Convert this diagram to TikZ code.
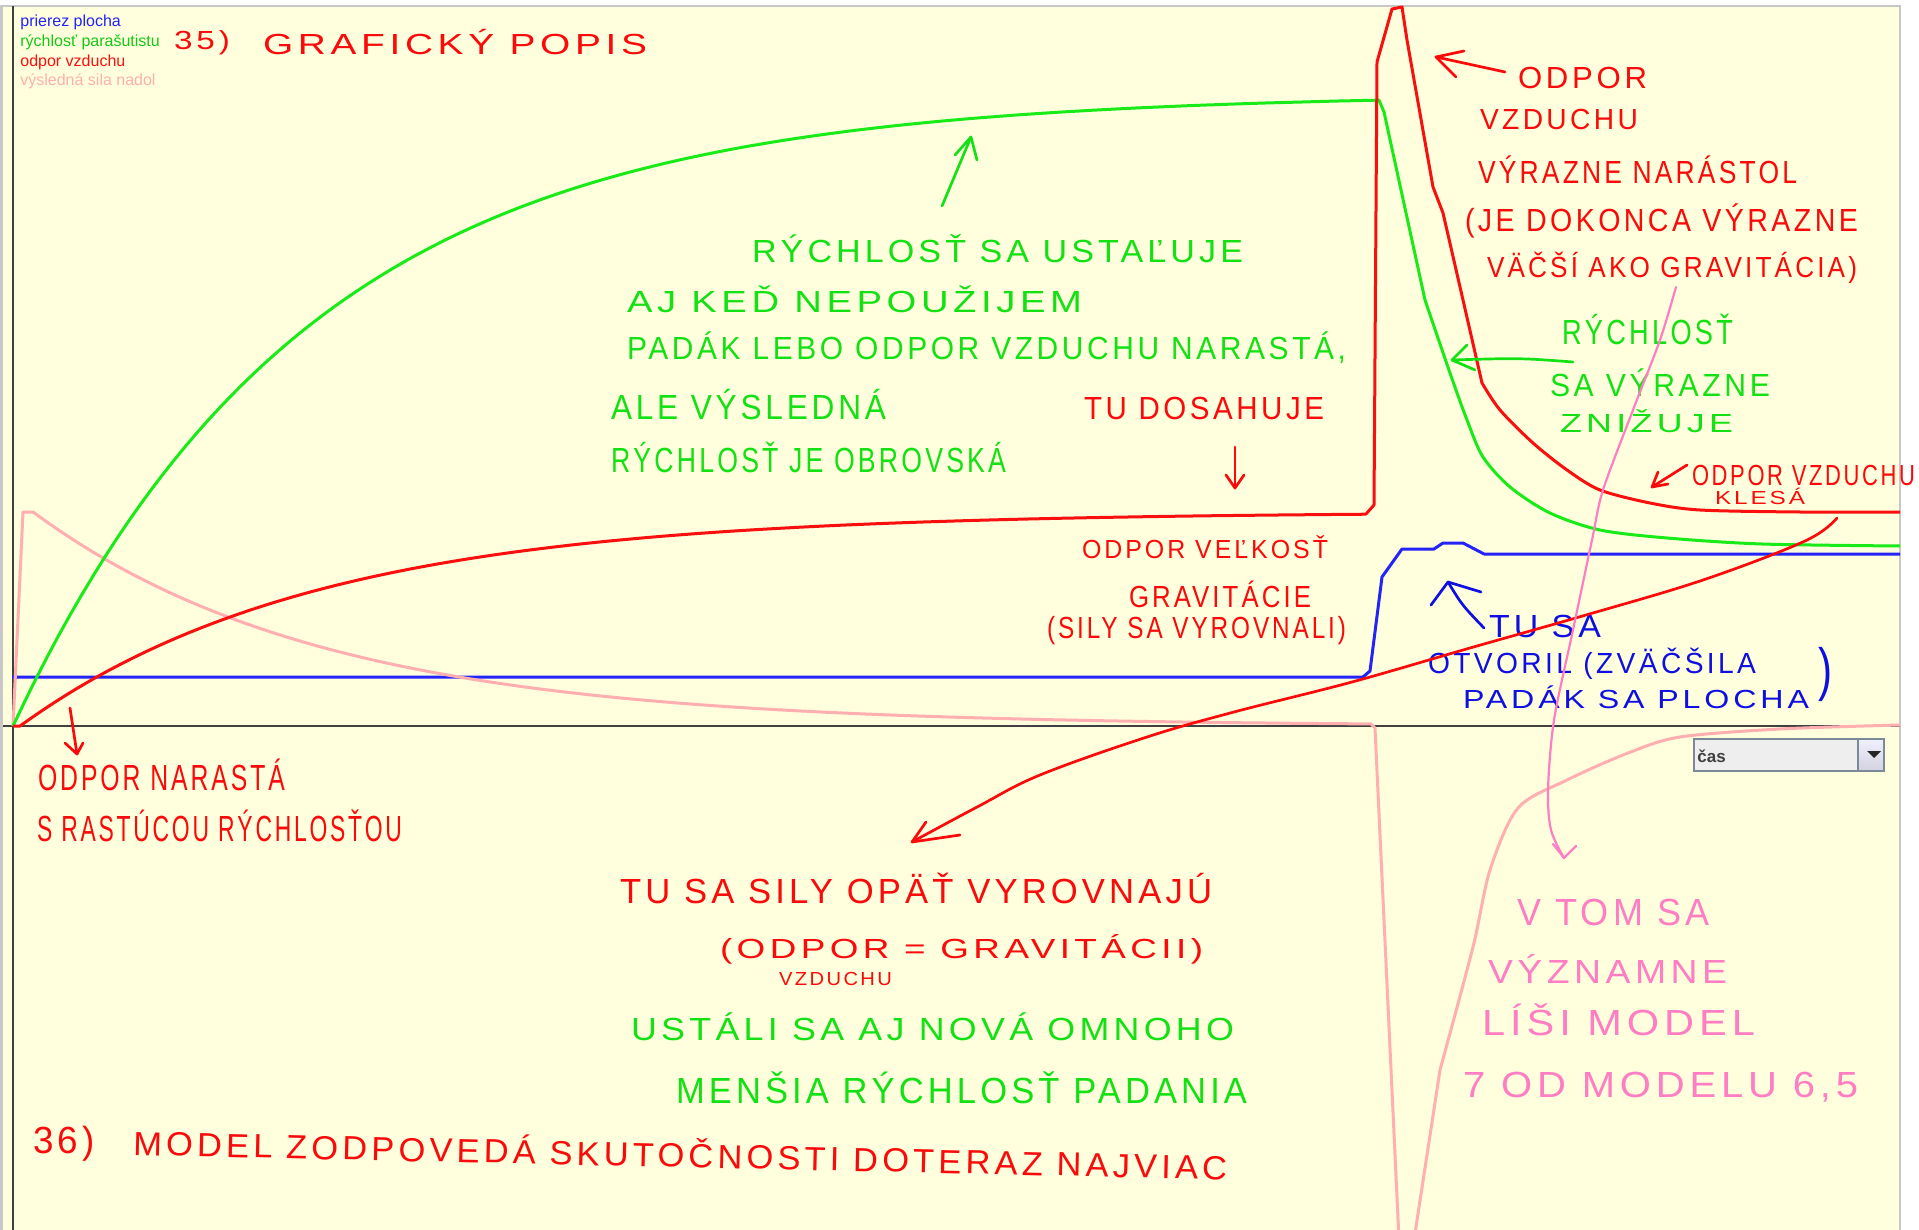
\documentclass[tikz,border=0pt]{standalone}
\usepackage{fontspec}
\usepackage{graphicx}
\setmainfont{Liberation Sans}
\newfontfamily\handfont[LetterSpace=12]{Liberation Sans}

% one screen pixel
\newdimen\px \px=0.5pt
\newsavebox\hwbox
\newsavebox\hwcap
% marker lettering: width in px, cap height in px, text
\newcommand\hw[3]{%
  \sbox\hwbox{\handfont #3}%
  \sbox\hwcap{\handfont H}%
  \ht\hwbox=\ht\hwcap \dp\hwbox=0pt
  \resizebox{#1\px}{#2\px}{\usebox\hwbox}}

\definecolor{plotbg}{RGB}{255,255,221}
\definecolor{framegray}{RGB}{200,200,200}
\definecolor{axisgray}{RGB}{64,64,64}
\definecolor{cblue}{RGB}{35,35,250}
\definecolor{cgreen}{RGB}{25,235,25}
\definecolor{cred}{RGB}{250,15,15}
\definecolor{cpink}{RGB}{255,175,175}
\definecolor{hred}{RGB}{250,10,10}
\definecolor{hgreen}{RGB}{20,225,20}
\definecolor{hblue}{RGB}{15,15,225}
\definecolor{hpink}{RGB}{255,125,195}
\definecolor{boxfill}{RGB}{238,238,238}
\definecolor{boxedge}{RGB}{122,138,153}

\begin{document}
\begin{tikzpicture}[x=0.5pt,y=-0.5pt,
  dataline/.style={line width=1.5pt, line join=round},
  pen/.style={line width=1.35pt, line cap=round, line join=round},
  hand/.style={inner sep=0pt, outer sep=0pt, anchor=base west},
  legend/.style={inner sep=0pt, anchor=west, font=\fontsize{8}{9}\selectfont},
  axis/.style={axisgray, line width=0.8pt}]
\useasboundingbox (0,0) rectangle (1919,1230);

% window and plot area
\fill[white] (0,0) rectangle (1919,1230);
\fill[plotbg] (0,6) rectangle (1900,1230);
\fill[framegray] (0,6) rectangle (3,1230);
\draw[framegray, line width=1pt] (0,6) -- (1900,6) -- (1900,1230);

% axes
\draw[axis] (3,726) -- (1900,726);
\draw[axis] (13,6) -- (13,1230);

% simulated quantities
\begin{scope}
\clip (3,6) rectangle (1900,1230);
% cross-section area
\draw[dataline, cblue] (12,677) -- (1363,677) -- (1370,671) -- (1382,577) -- (1402,549)
  -- (1434,549) -- (1443,543) -- (1463,543) -- (1484,554) -- (1900,554);
% downward resulting force
\draw[dataline, cpink] (13,726) -- (23,512) -- (33,512)
  -- plot[domain=33:1371, samples=90] (\x, {726-214*exp(-(\x-33)/289)})
  -- (1375,728) -- (1399,1240) -- (1414,1240) -- (1440,1070)
  plot[smooth, tension=0.5] coordinates {(1440,1070) (1473,947) (1490,870) (1518,808)
    (1567,780) (1628,753) (1680,737) (1780,729) (1900,725)};
% parachutist speed
\draw[dataline, cgreen] plot[domain=13:1379, samples=120] (\x, {726-632*(1-exp(-(\x-13)/295))})
  -- (1384,112) -- (1425,300)
  plot[smooth, tension=0.5] coordinates {(1425,300) (1450,373) (1467,420) (1483,457)
    (1510,487) (1550,513) (1600,530) (1667,538) (1762,544) (1900,546)};
% air resistance
\draw[dataline, cred] (13,726) -- (20,726)
  -- plot[domain=20:1362, samples=120] (\x, {726-214*(1-exp(-(\x-20)/295))})
  -- (1366,514) -- (1374,505) -- (1377,62) -- (1392,9) -- (1402,7) -- (1407,40)
  -- (1433,187) -- (1443,213) -- (1463,300) -- (1482,383)
  plot[smooth, tension=0.5] coordinates {(1482,383) (1500,410) (1533,443) (1567,470)
    (1600,490) (1650,503) (1700,510) (1800,512) (1900,512)};
\end{scope}

% legend
\node[legend, text=cblue] (lgarea) at (20,22) {prierez plocha};
\node[legend, text=cgreen!85!black] (lgspeed) at (20,42) {rýchlosť parašutistu};
\node[legend, text=cred] (lgdrag) at (20,62) {odpor vzduchu};
\node[legend, text=cpink] (lgforce) at (20,81) {výsledná sila nadol};

% time selector
\fill[boxfill] (1694,739) rectangle (1858,771);
\shade[top color=blue!6, bottom color=blue!18!gray!30] (1858,739) rectangle (1884,771);
\draw[boxedge, line width=0.6pt] (1694,739) rectangle (1884,771);
\draw[boxedge, line width=0.6pt] (1858,739) -- (1858,771);
\fill[black!85] (1867,751) -- (1881,751) -- (1874,758) -- cycle;
\node[anchor=west, inner sep=0pt, font=\bfseries\fontsize{8.5}{9}\selectfont, text=black!75] (cas) at (1697,756) {čas};

% ---- marker notes ----
\node[hand, text=hred] (n35) at (174,50) {\hw{56}{18}{35)}};
\node[hand, text=hred] (title) at (263,55) {\hw{384}{20}{GRAFICKÝ POPIS}};

\node[hand, text=hgreen] (g1) at (752,263) {\hw{491}{22}{RÝCHLOSŤ SA USTAĽUJE}};
\node[hand, text=hgreen] (g2) at (627,313) {\hw{455}{21}{AJ KEĎ NEPOUŽIJEM}};
\node[hand, text=hgreen] (g3) at (627,360) {\hw{719}{22}{PADÁK LEBO ODPOR VZDUCHU NARASTÁ,}};
\node[hand, text=hgreen] (g4) at (611,420) {\hw{275}{24}{ALE VÝSLEDNÁ}};
\node[hand, text=hgreen] (g5) at (611,473) {\hw{395}{24}{RÝCHLOSŤ JE OBROVSKÁ}};

\node[hand, text=hred] (r1) at (1084,420) {\hw{240}{22}{TU DOSAHUJE}};
\node[hand, text=hred] (r2) at (1082,558) {\hw{246}{18}{ODPOR VEĽKOSŤ}};
\node[hand, text=hred] (r3) at (1129,607) {\hw{182}{21}{GRAVITÁCIE}};
\node[hand, text=hred] (r4) at (1047,638) {\hw{299}{21}{(SILY SA VYROVNALI)}};

\node[hand, text=hblue] (b1) at (1489,637) {\hw{112}{22}{TU SA}};
\node[hand, text=hblue] (b2) at (1428,673) {\hw{328}{20}{OTVORIL (ZVÄČŠILA}};
\node[hand, text=hblue] (b3) at (1818,689) {\hw{14}{40}{)}};
\node[hand, text=hblue] (b4) at (1463,708) {\hw{346}{18}{PADÁK SA PLOCHA}};

\node[hand, text=hred] (r5) at (1518,89) {\hw{129}{21}{ODPOR}};
\node[hand, text=hred] (r6) at (1480,130) {\hw{158}{20}{VZDUCHU}};
\node[hand, text=hred] (r7) at (1478,184) {\hw{319}{22}{VÝRAZNE NARÁSTOL}};
\node[hand, text=hred] (r8) at (1465,232) {\hw{393}{22}{(JE DOKONCA VÝRAZNE}};
\node[hand, text=hred] (r9) at (1487,278) {\hw{370}{20}{VÄČŠÍ AKO GRAVITÁCIA)}};

\node[hand, text=hgreen] (g6) at (1562,345) {\hw{171}{24}{RÝCHLOSŤ}};
\node[hand, text=hgreen] (g7) at (1550,397) {\hw{220}{22}{SA VÝRAZNE}};
\node[hand, text=hgreen] (g8) at (1560,433) {\hw{173}{18}{ZNIŽUJE}};

\node[hand, text=hred] (r10) at (1692,486) {\hw{223}{20}{ODPOR VZDUCHU}};
\node[hand, text=hred] (r11) at (1715,505) {\hw{90}{13}{KLESÁ}};

\node[hand, text=hred] (r12) at (38,790) {\hw{247}{25}{ODPOR NARASTÁ}};
\node[hand, text=hred] (r13) at (37,841) {\hw{365}{25}{S RASTÚCOU RÝCHLOSŤOU}};

\node[hand, text=hred] (r14) at (620,903) {\hw{592}{24}{TU SA SILY OPÄŤ VYROVNAJÚ}};
\node[hand, text=hred] (r15) at (720,958) {\hw{483}{19}{(ODPOR = GRAVITÁCII)}};
\node[hand, text=hred] (r16) at (779,985) {\hw{113}{13}{VZDUCHU}};
\node[hand, text=hgreen] (g9) at (631,1040) {\hw{603}{22}{USTÁLI SA AJ NOVÁ OMNOHO}};
\node[hand, text=hgreen] (g10) at (676,1103) {\hw{571}{25}{MENŠIA RÝCHLOSŤ PADANIA}};

\node[hand, text=hred] (n36) at (33,1153) {\hw{62}{26}{36)}};
\node[hand, text=hred, rotate=-1.3] (r18) at (133,1155) {\hw{1094}{23}{MODEL ZODPOVEDÁ SKUTOČNOSTI DOTERAZ NAJVIAC}};

\node[hand, text=hpink] (p1) at (1517,925) {\hw{193}{26}{V TOM SA}};
\node[hand, text=hpink] (p2) at (1488,983) {\hw{239}{23}{VÝZNAMNE}};
\node[hand, text=hpink] (p3) at (1482,1035) {\hw{273}{25}{LÍŠI MODEL}};
\node[hand, text=hpink] (p4) at (1463,1097) {\hw{395}{25}{7 OD MODELU 6,5}};

% ---- marker arrows ----
% speed levels off
\coordinate (ga1) at (942,206); \coordinate (ga2) at (971,137);
\draw[pen, hgreen] (ga1) -- (ga2);
\draw[pen, hgreen] (955,155) -- (ga2) -- (977,160);
% drag reaches gravity
\coordinate (ra1) at (1235,447); \coordinate (ra2) at (1235,488);
\draw[pen, hred] (ra1) -- (ra2);
\draw[pen, hred] (1226,475) -- (ra2) -- (1244,475);
% drag peak
\coordinate (rb1) at (1505,72); \coordinate (rb2) at (1436,57);
\draw[pen, hred] (rb1) -- (rb2);
\draw[pen, hred] (1464,51) -- (rb2) -- (1456,77);
% speed drops
\coordinate (gb1) at (1573,362); \coordinate (gb2) at (1452,360);
\draw[pen, hgreen] (gb1) .. controls (1520,358) .. (gb2);
\draw[pen, hgreen] (1467,345) -- (gb2) -- (1475,370);
% drag decreases
\coordinate (rc1) at (1687,465); \coordinate (rc2) at (1652,487);
\draw[pen, hred] (rc1) -- (rc2);
\draw[pen, hred] (1658,472) -- (rc2) -- (1668,484);
% parachute opens
\coordinate (ba1) at (1484,628); \coordinate (ba2) at (1448,582);
\draw[pen, hblue] (ba1) .. controls (1462,605) .. (ba2);
\draw[pen, hblue] (1431,605) -- (ba2) -- (1481,592);
% drag grows with speed
\coordinate (rd1) at (70,708); \coordinate (rd2) at (77,754);
\draw[pen, hred] (rd1) -- (rd2);
\draw[pen, hred] (65,743) -- (rd2) -- (83,743);
% forces balance again
\coordinate (re1) at (1837,518); \coordinate (re2) at (912,842);
\draw[pen, hred] plot[smooth, tension=0.6] coordinates {(re1) (1805,541) (1703,580) (1586,615)
  (1470,648) (1352,682) (1234,712) (1147,737) (1040,775) (979,806) (re2)};
\draw[pen, hred] (926,822) -- (re2) -- (960,835);
% model comparison
\coordinate (pa1) at (1676,287); \coordinate (pa2) at (1564,858);
\draw[pen, hpink, line width=1.1pt] plot[smooth, tension=0.5] coordinates {(pa1) (1660,340) (1633,410)
  (1603,490) (1592,540) (1573,630) (1554,720) (1548,790) (1551,830) (pa2)};
\draw[pen, hpink, line width=1.1pt] (1553,844) -- (pa2) -- (1576,846);
\end{tikzpicture}
\end{document}
